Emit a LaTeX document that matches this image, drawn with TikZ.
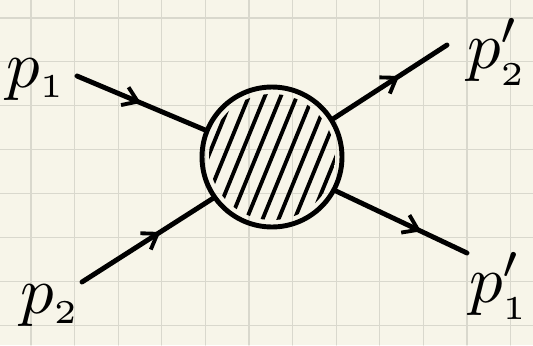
\documentclass[tikz,border=0pt]{standalone}
\usepackage{graphicx}
\usepackage{tikz}
\usetikzlibrary{arrows.meta,decorations.markings}
\definecolor{paper}{HTML}{F7F5E9}
\definecolor{gridline}{HTML}{D9D8CD}
\newcommand\momlabel[1]{\scalebox{3.8}{$#1$}}

\begin{document}
\begin{tikzpicture}[x=0.02cm,y=-0.02cm,line cap=round,line join=round,every node/.style={inner sep=0pt},blob/.style={circle,draw,line width=2.8pt,minimum size=2.8cm,inner sep=0pt},leg/.style={line width=2.8pt,postaction={decorate},decoration={markings,mark=at position #1 with {\arrow[line width=2.2pt]{Straight Barb[length=8pt,width=11pt]}}}},hatch/.style={line width=2.2pt}]
\useasboundingbox[fill=paper] (0,0) rectangle (533,345);
% squared paper
\foreach \k in {0,...,11} \draw[gridline,line width=0.6pt] ({31+43.6*\k},0) -- ++(0,345);
\foreach \k in {0,...,7} \draw[gridline,line width=0.6pt] (0,{18+43.9*\k}) -- ++(533,0);
% scattering blob
\begin{scope}
\clip (272,157) circle (63);
\foreach \d in {-6,...,6} \draw[hatch] ({272+16*\d-45},267) -- ++(90,-220);
\end{scope}
\node[blob] (blob) at (272,157) {};
% incoming and outgoing legs
\coordinate (in1) at (77,76); \coordinate (in2) at (82,282);
\coordinate (out2) at (447,45); \coordinate (out1) at (467,253);
\draw[leg=0.5] (in1) -- (blob.158);
\draw[leg=0.6] (in2) -- (blob.215);
\draw[leg=0.58] (blob.32) -- (out2);
\draw[leg=0.65] (blob.332) -- (out1);
% momenta
\node[anchor=west] (p1) at (6,80) {\momlabel{p_{\scriptscriptstyle 1}}};
\node[anchor=west] (p2) at (20,306) {\momlabel{p_{\scriptscriptstyle 2}}};
\node[anchor=east] (p2p) at (527,52) {\momlabel{p'_{\scriptscriptstyle 2}}};
\node[anchor=east] (p1p) at (529,286) {\momlabel{p'_{\scriptscriptstyle 1}}};
\end{tikzpicture}
\end{document}
